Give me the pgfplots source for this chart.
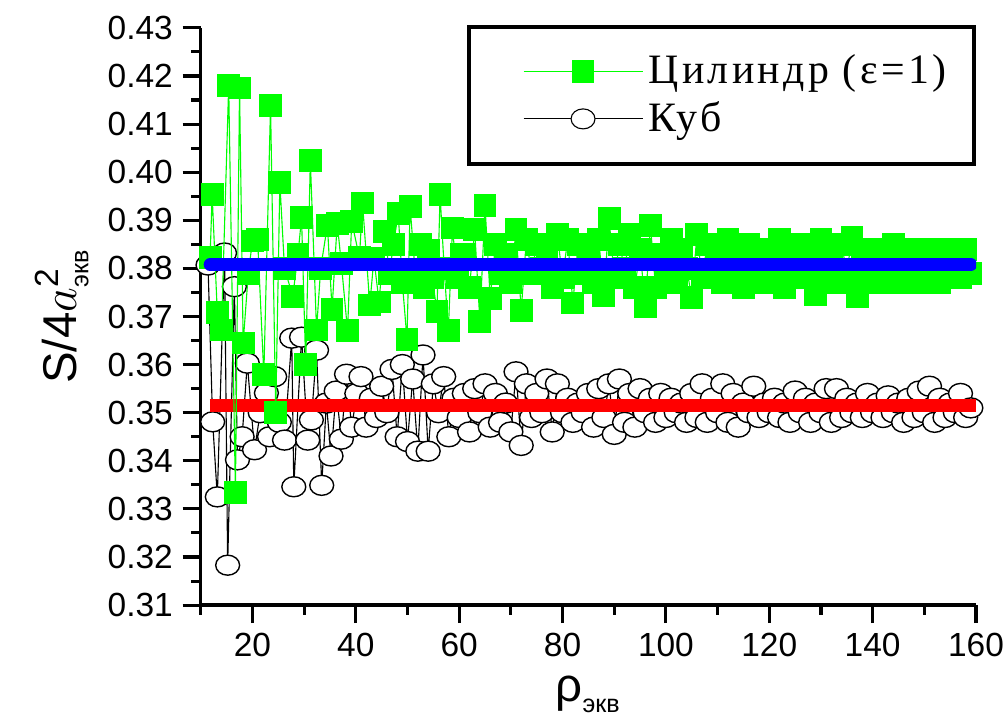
\documentclass[border=0pt]{standalone}
\usepackage{amsmath}
\usepackage{fontspec}
\setmainfont{Liberation Sans}
\newfontfamily\legfont[LetterSpace=8]{Liberation Serif}
\usepackage{pgfplots}
\pgfplotsset{compat=1.18}
\definecolor{lgreen}{RGB}{0,255,0}
\definecolor{lblue}{RGB}{0,0,255}
\definecolor{lred}{RGB}{255,0,0}

\begin{document}
\begin{tikzpicture}
\begin{axis}[
    scale only axis,
    width=278pt, height=207pt,
    xmin=10, xmax=160,
    ymin=0.31, ymax=0.43,
    clip mode=individual,
    axis lines=left,
    axis line style={-, line width=1.2pt},
    tick align=outside,
    tick style={line width=1.1pt, black},
    major tick length=6.5pt,
    minor tick length=3.5pt,
    xtick={20,40,...,160},
    minor xtick={10,30,...,150},
    ytick={0.31,0.32,0.33,0.34,0.35,0.36,0.37,0.38,0.39,0.40,0.41,0.42,0.43},
    minor ytick={0.315,0.325,0.335,0.345,0.355,0.365,0.375,0.385,0.395,0.405,0.415,0.425},
    /pgf/number format/assume math mode=true,
    ticklabel style={font=\fontsize{12}{14}\selectfont},
    yticklabel style={/pgf/number format/fixed, /pgf/number format/fixed zerofill, /pgf/number format/precision=2},
    xlabel={$\text{ρ}_{\text{\fontsize{9}{10}\selectfont экв}}$},
    ylabel={$\text{S/4}a^{\text{\fontsize{12}{13}\selectfont 2}}_{\text{\fontsize{9}{10}\selectfont экв}}$},
    label style={font=\fontsize{17}{20}\selectfont},
    legend style={at={(1,1.005)}, anchor=north east, draw=black, line width=1.3pt,
        inner xsep=8pt, inner ysep=8pt, row sep=1pt,
        font=\legfont\fontsize{15}{18}\selectfont},
    legend cell align=left,
    legend image code/.code={\path (-0.4cm,0cm); \draw[mark repeat=2,mark phase=2,#1] plot coordinates {(0cm,0cm) (0.75cm,0cm) (1.5cm,0cm)};},
]
\coordinate (pa) at (rel axis cs:0,0);
\coordinate (pb) at (rel axis cs:1,1);
\addlegendimage{lgreen, line width=0.4pt, mark=square*, mark size=3.9pt, mark options={solid, fill=lgreen, draw=lgreen}}
\addlegendentry{Цилиндр (ε=1)}
\addlegendimage{black, line width=0.4pt, mark=*, mark size=3.9pt, mark options={solid, fill=white, draw=black, xscale=1.1, yscale=0.92}}
\addlegendentry{Куб}

% Куб
\addplot[black, line width=0.4pt, mark=*, mark size=3.9pt, mark options={fill=white, draw=black, line width=0.5pt, xscale=1.1, yscale=0.92}, forget plot] coordinates {
(11.4,0.3807)(12.3,0.3481)(13.2,0.3325)(14.6,0.3832)(15.2,0.3183)(16.5,0.3762)(17.1,0.3402)(18.0,0.3450)(19.0,0.3603)(20.4,0.3423)
(21.5,0.3500)(22.7,0.3541)(23.3,0.3450)(24.3,0.3575)(25.2,0.3480)(26.2,0.3443)(27.6,0.3655)(28.0,0.3346)(29.5,0.3657)(30.7,0.3443)
(31.4,0.3485)(32.4,0.3630)(33.4,0.3349)(34.3,0.3520)(35.2,0.3410)(36.2,0.3545)(37.2,0.3445)(38.2,0.3580)(39.2,0.3470)(40.2,0.3540)
(41,0.3575)(42,0.3470)(43,0.3530)(44,0.3490)(45,0.3555)(46,0.3500)(47,0.3590)(48,0.3450)(49,0.3600)(50,0.3440)
(51,0.3570)(52,0.3420)(53,0.3620)(54,0.3420)(55,0.3560)(56,0.3500)(57,0.3575)(58,0.3450)(59,0.3530)(60,0.3490)
(61,0.3540)(62,0.3460)(63,0.3550)(64,0.3500)(65,0.3560)(66,0.3470)(67,0.3540)(68,0.3480)(69,0.3520)(70,0.3460)
(71,0.3585)(72,0.3432)(73,0.3560)(74,0.3490)(75,0.3540)(76,0.3500)(77,0.3570)(78,0.3460)(79,0.3560)(80,0.3500)
(81,0.3530)(82,0.3480)(83,0.3520)(84,0.3500)(85,0.3540)(86,0.3470)(87,0.3550)(88,0.3490)(89,0.3560)(90,0.3455)
(91,0.3570)(92,0.3480)(93,0.3540)(94,0.3470)(95,0.3550)(96,0.3500)(97,0.3530)(98,0.3480)(99,0.3540)(100,0.3490)
(101,0.3530)(102,0.3500)(103,0.3520)(104,0.3480)(105,0.3540)(106,0.3490)(107,0.3560)(108,0.3480)(109,0.3530)(110,0.3500)
(111,0.3560)(112,0.3480)(113,0.3540)(114,0.3470)(115,0.3520)(116,0.3500)(117,0.3555)(118,0.3490)(119,0.3520)(120,0.3500)
(121,0.3530)(122,0.3490)(123,0.3520)(124,0.3480)(125,0.3545)(126,0.3500)(127,0.3530)(128,0.3480)(129,0.3520)(130,0.3500)
(131,0.3550)(132,0.3480)(133,0.3550)(134,0.3490)(135,0.3530)(136,0.3500)(137,0.3520)(138,0.3490)(139,0.3540)(140,0.3500)
(141,0.3520)(142,0.3490)(143,0.3535)(144,0.3500)(145,0.3520)(146,0.3480)(147,0.3530)(148,0.3490)(149,0.3545)(150,0.3500)
(151,0.3555)(152,0.3480)(153,0.3530)(154,0.3490)(155,0.3520)(156,0.3500)(157,0.3540)(158,0.3490)(159,0.3510)
};
% average, cube
\addplot[lred, line width=4.6pt, forget plot] coordinates {(11.7,0.3515) (160,0.3515)};
% Цилиндр
\addplot[lgreen, line width=0.4pt, mark=square*, mark size=3.9pt, mark options={fill=lgreen, draw=lgreen}, forget plot] coordinates {
(11.8,0.3822)(12.2,0.3953)(13.2,0.3708)(14.0,0.3672)(15.4,0.4180)(16.7,0.3335)(17.5,0.4175)(18.2,0.3645)(19.2,0.3790)(20.0,0.3857)
(21.0,0.3860)(22.2,0.3579)(23.5,0.4138)(24.5,0.3500)(25.3,0.3978)(26.2,0.3800)(27.8,0.3742)(28.8,0.3828)(29.5,0.3905)(30.3,0.3601)
(31.2,0.4024)(32.4,0.3672)(33.2,0.3800)(34.5,0.3890)(35.4,0.3715)(36.4,0.3894)(37.2,0.3810)(38.4,0.3670)(39.2,0.3898)(40.7,0.3822)
(41.3,0.3936)(42.7,0.3724)(43.5,0.3820)(44.5,0.3730)(45.6,0.3876)(46.5,0.3790)(47.3,0.3850)(48.2,0.3915)(49.0,0.3770)(49.9,0.3653)
(50.5,0.3928)(51.5,0.3790)(52.5,0.3850)(53.2,0.3760)(54.0,0.3838)(54.8,0.3780)(55.7,0.3710)(56.3,0.3953)(57.1,0.3800)(57.9,0.3670)
(58.7,0.3884)(59.6,0.3780)(60.5,0.3830)
(61,0.3830)(62,0.3760)(63,0.3880)(64,0.3690)(65,0.3930)(66,0.3737)(67,0.3850)(68,0.3790)(69,0.3830)(70,0.3770)
(71,0.3880)(72,0.3712)(73,0.3860)(74,0.3790)(75,0.3850)(76,0.3800)(77,0.3840)(78,0.3760)(79,0.3870)(80,0.3780)
(81,0.3860)(82,0.3728)(83,0.3850)(84,0.3790)(85,0.3840)(86,0.3770)(87,0.3860)(88,0.3743)(89,0.3903)(90,0.3780)
(91,0.3850)(92,0.3800)(93,0.3870)(94,0.3760)(95,0.3840)(96,0.3720)(97,0.3890)(98,0.3760)(99,0.3830)(100,0.3790)
(101,0.3860)(102,0.3770)(103,0.3840)(104,0.3800)(105,0.3740)(106,0.3870)(107,0.3780)(108,0.3850)(109,0.3790)(110,0.3840)
(111,0.3770)(112,0.3860)(113,0.3780)(114,0.3840)(115,0.3760)(116,0.3850)(117,0.3790)(118,0.3830)(119,0.3770)(120,0.3840)
(121,0.3780)(122,0.3860)(123,0.3760)(124,0.3830)(125,0.3800)(126,0.3850)(127,0.3780)(128,0.3840)(129,0.3745)(130,0.3860)
(131,0.3790)(132,0.3830)(133,0.3770)(134,0.3850)(135,0.3790)(136,0.3865)(137,0.3741)(138,0.3830)(139,0.3790)(140,0.3840)
(141,0.3770)(142,0.3830)(143,0.3790)(144,0.3850)(145,0.3770)(146,0.3840)(147,0.3790)(148,0.3830)(149,0.3770)(150,0.3840)
(151,0.3780)(152,0.3830)(153,0.3770)(154,0.3840)(155,0.3790)(156,0.3830)(157,0.3780)(158,0.3840)(159,0.3790)
};
% average, cylinder
\addplot[lblue, line width=4.6pt, line cap=round, forget plot] coordinates {(11.8,0.3808) (159,0.3808)};
\end{axis}
\pgfresetboundingbox
\path ([xshift=-72pt,yshift=-41.2pt]pa) rectangle ([xshift=10.4pt,yshift=10pt]pb);
\end{tikzpicture}
\end{document}
